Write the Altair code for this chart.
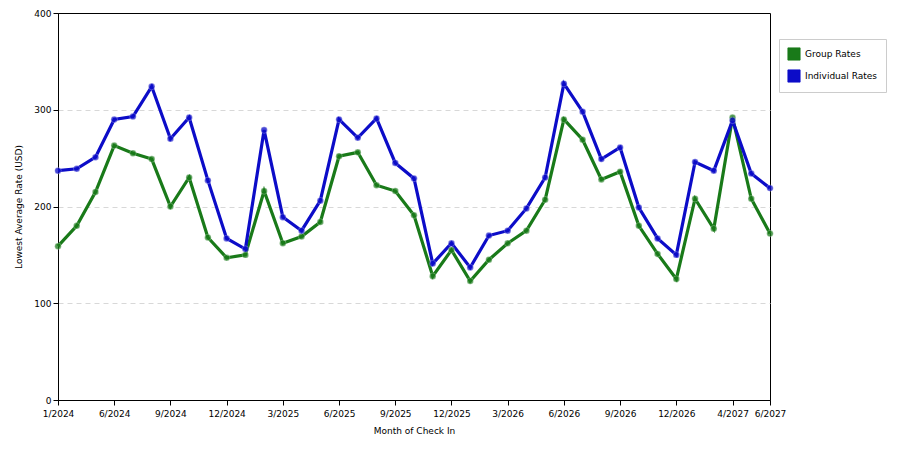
import altair as alt
import pandas as pd

months = ["1/2024", "3/2024", "4/2024", "6/2024", "7/2024", "8/2024", "9/2024", "10/2024",
          "11/2024", "12/2024", "1/2025", "2/2025", "3/2025", "4/2025", "5/2025", "6/2025",
          "7/2025", "8/2025", "9/2025", "10/2025", "11/2025", "12/2025", "1/2026", "2/2026",
          "3/2026", "4/2026", "5/2026", "6/2026", "7/2026", "8/2026", "9/2026", "10/2026",
          "11/2026", "12/2026", "1/2027", "2/2027", "4/2027", "5/2027", "6/2027"]

group_rates = [159, 180, 215, 263, 255, 249, 200, 230, 168, 147, 150, 216, 162, 169, 184,
               252, 256, 222, 216, 191, 128, 155, 123, 145, 162, 175, 207, 290, 269, 228,
               236, 180, 151, 125, 208, 177, 292, 208, 172]

individual_rates = [237, 239, 251, 290, 293, 324, 270, 292, 227, 167, 156, 279, 189, 175, 206,
                    290, 271, 291, 245, 229, 141, 162, 137, 170, 175, 198, 230, 327, 298, 249,
                    261, 199, 167, 150, 246, 237, 289, 234, 219]

tick_labels = ["1/2024", "6/2024", "9/2024", "12/2024", "3/2025", "6/2025", "9/2025",
               "12/2025", "3/2026", "6/2026", "9/2026", "12/2026", "4/2027", "6/2027"]

series_names = ["Group Rates", "Individual Rates"]
line_colors = ["#197a19", "#0c0cc8"]

rows = []
for i, m in enumerate(months):
    rows.append({"month": m, "order": i, "series": series_names[0], "rate": group_rates[i]})
    rows.append({"month": m, "order": i, "series": series_names[1], "rate": individual_rates[i]})
df = pd.DataFrame(rows)

font = "DejaVu Sans"

x_enc = alt.X("month:O", sort=months, title="Month of Check In",
              scale=alt.Scale(type="point", padding=0),
              axis=alt.Axis(values=tick_labels, labelAngle=0, labelFontSize=9,
                            titleFontSize=9, titleFontWeight="normal", tickSize=5,
                            domainColor="#000", tickColor="#000", labelColor="#000",
                            titleColor="#000", labelFont=font, titleFont=font,
                            titlePadding=8, grid=False, labelPadding=4))
y_enc = alt.Y("rate:Q", title="Lowest Average Rate (USD)",
              scale=alt.Scale(domain=[0, 400], nice=False),
              axis=alt.Axis(values=[0, 100, 200, 300, 400], labelFontSize=9, titleFontSize=9,
                            titleFontWeight="normal", tickSize=5, domainColor="#000",
                            tickColor="#000", labelColor="#000", titleColor="#000",
                            labelFont=font, titleFont=font, grid=True, gridDash=[5, 4],
                            gridColor="#d8d8d8",
                            gridOpacity={"condition": {"test": "datum.value == 400 || datum.value == 0",
                                                       "value": 0}, "value": 1},
                            titlePadding=10))
color_enc = alt.Color("series:N", sort=series_names,
                      scale=alt.Scale(domain=series_names, range=line_colors),
                      legend=alt.Legend(title=None, orient="none", legendX=721, legendY=26,
                                        symbolType="square", symbolSize=150,
                                        symbolStrokeColor="#333", symbolStrokeWidth=0.8,
                                        symbolOpacity=1, labelFontSize=9, labelFont=font,
                                        labelColor="#000", strokeColor="#cccccc",
                                        padding=8, rowPadding=6, fillColor="#ffffff"))

base = alt.Chart(df).encode(x=x_enc, y=y_enc, color=color_enc, order="order:Q")

lines = base.mark_line(strokeWidth=3.2)
points = base.mark_circle(size=42, opacity=0.75, stroke="#ffffff", strokeOpacity=0.35,
                          strokeWidth=1)

chart = (lines + points).properties(
    width=712, height=387,
    autosize=alt.AutoSizeParams(type="none"),
    padding={"left": 50, "top": 5, "right": 120, "bottom": 38},
    background="#ffffff",
).configure_view(stroke="#000000", strokeWidth=1)

chart.save("out.html", embed_options={"renderer": "svg", "actions": False})
